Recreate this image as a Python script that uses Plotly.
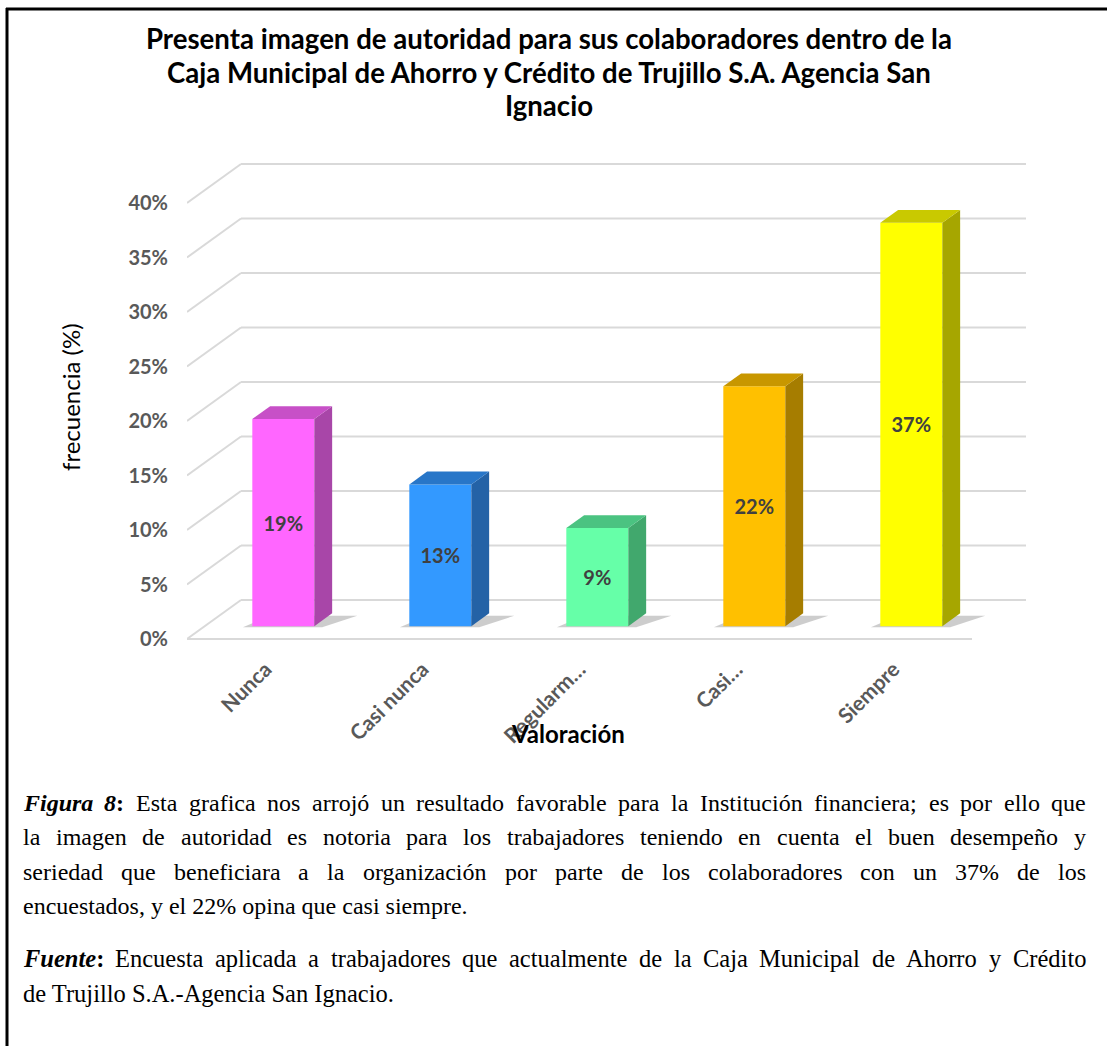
import plotly.graph_objects as go

# ---------------- data ----------------
categories = ["Nunca", "Casi nunca", "Regularmente", "Casi siempre", "Siempre"]
tick_labels = ["Nunca", "Casi nunca", "Regularm…", "Casi…", "Siempre"]
values = [19, 13, 9, 22, 37]
value_labels = ["19%", "13%", "9%", "22%", "37%"]
y_ticks = [0, 5, 10, 15, 20, 25, 30, 35, 40]
y_tick_labels = ["0%", "5%", "10%", "15%", "20%", "25%", "30%", "35%", "40%"]

front_colors = ["#FF66FF", "#3399FF", "#66FFA8", "#FFC000", "#FFFF00"]
side_colors = ["#A846A8", "#2462A6", "#41A86D", "#A67D00", "#A6A600"]
top_colors = ["#C750C7", "#2876C8", "#4BC381", "#C89700", "#C9C900"]

title_lines = ["Presenta imagen de autoridad para sus colaboradores dentro de la",
               "Caja Municipal de Ahorro y Crédito de Trujillo S.A. Agencia San",
               "Ignacio"]

# ---------------- layout geometry (pixels) ----------------
W, H = 1107, 1046
PL, PR, PT, PB = 187, 64, 140, 646
PW, PH = W - PL - PR, PB - PT
SX = 157.0
SY = 10.9
FRONT_Y0 = 639
DX, DY = 54 / SX, 39 / SY
F_OFF, T_DEPTH, BAR_W = 0.33, 0.33, 0.395

x_range = [-0.5, -0.5 + PW / SX]
y_range = [-(PB - FRONT_Y0) / SY, (FRONT_Y0 - PT) / SY]


def px(xp):
    return (xp - PL) / PW


def py(yp):
    return (PB - yp) / PH


fig = go.Figure()

xs = [i + F_OFF * DX for i in range(len(values))]
base = F_OFF * DY
fig.add_trace(go.Bar(
    x=xs, y=values, base=[base] * len(values), width=BAR_W,
    marker=dict(color=front_colors, line=dict(width=0)),
    text=value_labels, texttemplate="<b>%{text}</b>",
    textposition="inside", insidetextanchor="middle", textangle=0,
    insidetextfont=dict(family="Lato", size=20, color="#404040"),
    hoverinfo="skip", showlegend=False,
))

shapes = []
for v in y_ticks:
    shapes.append(dict(type="line", xref="x", yref="y", layer="below",
                       x0=-0.5 + DX, x1=-0.5 + 5 + DX, y0=v + DY, y1=v + DY,
                       line=dict(color="#D9D9D9", width=2)))
    shapes.append(dict(type="line", xref="x", yref="y", layer="below",
                       x0=-0.5, x1=-0.5 + DX, y0=v, y1=v + DY,
                       line=dict(color="#D9D9D9", width=2)))
shapes.append(dict(type="line", xref="x", yref="y", layer="below",
                   x0=-0.5, x1=4.5, y0=0, y1=0,
                   line=dict(color="#D9D9D9", width=2)))

for i, v in enumerate(values):
    x0 = xs[i] - BAR_W / 2
    x1 = xs[i] + BAR_W / 2
    y0 = base
    y1 = base + v
    tx, ty = T_DEPTH * DX, T_DEPTH * DY
    shapes.append(dict(type="path", xref="x", yref="y", layer="below",
                       path=f"M {x0 - 0.06},{y0 - 0.1} L {x1 + 0.05},{y0 - 0.1} "
                            f"L {x1 + tx + 0.16},{y0 + ty * 0.8} L {x0 + tx},{y0 + ty * 0.8} Z",
                       fillcolor="rgba(90,90,90,0.30)", line=dict(width=0)))
    fig.add_trace(go.Scatter(
        x=[x1, x1 + tx, x1 + tx, x1, x1], y=[y0, y0 + ty, y1 + ty, y1, y0],
        mode="lines", fill="toself", fillcolor=side_colors[i],
        line=dict(width=0, color=side_colors[i]), hoverinfo="skip", showlegend=False))
    fig.add_trace(go.Scatter(
        x=[x0, x1, x1 + tx, x0 + tx, x0], y=[y1, y1, y1 + ty, y1 + ty, y1],
        mode="lines", fill="toself", fillcolor=top_colors[i],
        line=dict(width=0, color=top_colors[i]), hoverinfo="skip", showlegend=False))

# frame
shapes.append(dict(type="line", xref="paper", yref="paper",
                   x0=px(7), x1=px(7), y0=py(8), y1=py(1050), line=dict(color="black", width=3)))
shapes.append(dict(type="line", xref="paper", yref="paper",
                   x0=px(6), x1=px(1110), y0=py(9), y1=py(9), line=dict(color="black", width=3)))

annotations = []
for k, (line, yp) in enumerate(zip(title_lines, [38, 72, 106])):
    annotations.append(dict(xref="paper", yref="paper", x=px(549), y=py(yp),
                            xanchor="center", yanchor="middle", showarrow=False,
                            text="<b>" + line + "</b>",
                            font=dict(family="Lato", size=27.6, color="#000000")))
annotations.append(dict(xref="paper", yref="paper", x=px(70), y=py(397),
                        xanchor="center", yanchor="middle", showarrow=False, textangle=-90,
                        text="frecuencia (%)",
                        font=dict(family="Lato", size=24, color="#000000")))
annotations.append(dict(xref="paper", yref="paper", x=px(568), y=py(733),
                        xanchor="center", yanchor="middle", showarrow=False,
                        text="<b>Valoración</b>",
                        font=dict(family="Lato", size=24, color="#000000")))

# ---------------- caption (justified, Times metrics) ----------------
TR = {' ': 250, '%': 833, ',': 250, '-': 333, '.': 250, ':': 278, ';': 278,
      'A': 722, 'C': 667, 'E': 611, 'F': 556, 'I': 333, 'M': 889, 'S': 556, 'T': 611,
      'a': 444, 'b': 500, 'c': 444, 'd': 500, 'e': 444, 'f': 333, 'g': 500, 'h': 500,
      'i': 278, 'j': 278, 'k': 500, 'l': 278, 'm': 778, 'n': 500, 'o': 500, 'p': 500,
      'q': 500, 'r': 333, 's': 389, 't': 278, 'u': 500, 'v': 500, 'w': 722, 'x': 500,
      'y': 500, 'z': 444, 'ó': 500, 'é': 444, 'í': 278, 'ñ': 500, 'á': 444, 'ú': 500}
for d in "0123456789":
    TR[d] = 500
BI = {'F': 667, 'i': 278, 'g': 500, 'u': 556, 'r': 389, 'a': 500, '8': 500,
      'e': 444, 'n': 556, 't': 278, ':': 333, ' ': 250}

CL, CR = 22, 1085

caption_lines = [
    ("Figura 8: Esta grafica nos arrojó un resultado favorable para la Institución financiera; es por ello que", 803, True, 24),
    ("la imagen de autoridad es notoria para los trabajadores teniendo en cuenta el buen desempeño y", 837, True, 24),
    ("seriedad que beneficiara a la organización por parte de los colaboradores con un 37% de los", 872, True, 24),
    ("encuestados, y el 22% opina que casi siempre.", 906, False, 24),
    ("Fuente: Encuesta aplicada a trabajadores que actualmente de la Caja Municipal de Ahorro y Crédito", 958, True, 24.5),
    ("de Trujillo S.A.-Agencia San Ignacio.", 993, False, 24.5),
]


def wwidth(word, table, size):
    return sum(table.get(c, 500) for c in word) * size / 1000.0


def styled(word, size):
    if word == "Figura":
        return "<b><i>Figura</i></b>", wwidth("Figura", BI, size)
    if word == "8:":
        return "<b><i>8</i>:</b>", wwidth("8:", BI, size)
    if word == "Fuente:":
        return "<b><i>Fuente</i>:</b>", wwidth("Fuente:", BI, size)
    return word, wwidth(word, TR, size)


for line, yp, justify, size in caption_lines:
    font = dict(family="Liberation Serif", size=size, color="#000000")
    words = line.split(" ")
    items = [styled(w, size) for w in words]
    if justify:
        total = sum(w for _, w in items)
        gap = max((CR - CL - total) / (len(items) - 1), 0.25 * size)
        xcur = CL
        for txt, w in items:
            annotations.append(dict(xref="paper", yref="paper", x=px(xcur), y=py(yp),
                                    xanchor="left", yanchor="middle", showarrow=False,
                                    borderpad=0, text=txt, font=font))
            xcur += w + gap
    else:
        txt = " ".join(t for t, _ in items)
        annotations.append(dict(xref="paper", yref="paper", x=px(CL), y=py(yp),
                                xanchor="left", yanchor="middle", showarrow=False,
                                borderpad=0, text=txt, font=font))

fig.update_layout(
    width=W, height=H,
    margin=dict(l=PL, r=PR, t=PT, b=H - PB, pad=0),
    paper_bgcolor="white", plot_bgcolor="white",
    showlegend=False,
    xaxis=dict(range=x_range, tickmode="array", tickvals=list(range(len(tick_labels))),
               ticktext=tick_labels, tickangle=-45, showgrid=False, zeroline=False,
               showline=False, ticks="", fixedrange=True, ticklabelstandoff=6,
               tickfont=dict(family="Lato", size=21, color="#595959", weight="bold")),
    yaxis=dict(range=y_range, tickmode="array", tickvals=y_ticks, ticktext=y_tick_labels,
               showgrid=False, zeroline=False, showline=False, ticks="",
               ticklabelstandoff=18, fixedrange=True,
               tickfont=dict(family="Lato", size=20, color="#595959", weight="bold")),
    shapes=shapes,
    annotations=annotations,
)

fig.write_html("out.html")
